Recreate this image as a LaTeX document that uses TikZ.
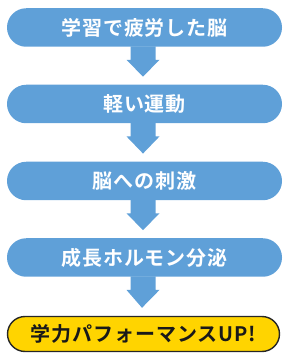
\documentclass[tikz,border=0pt]{standalone}
\usepackage{fontspec}
\newfontfamily\jpfont{Noto Sans CJK JP}[BoldFont={Noto Sans CJK JP Bold}, LetterSpace=4.5]
\usetikzlibrary{calc,positioning}
\definecolor{flowblue}{HTML}{5FA0D8}
\definecolor{flowyellow}{HTML}{FFD400}
\tikzset{
  stepbox/.style = {minimum width = 275, minimum height = 38.5, rounded corners = 19.2,
    inner sep = 0, font = \jpfont\bfseries\fontsize{20}{20}\selectfont},
  bluebox/.style = {stepbox, fill = flowblue, text = white},
  goalbox/.style = {stepbox, minimum width = 272, minimum height = 35, rounded corners = 17.5,
    fill = flowyellow, draw = black!85, line width = 1.4, text = black!90},
}
\begin{document}
\begin{tikzpicture}[x = 1pt, y = 1pt]
        \useasboundingbox(0,0)rectangle(289,359);
        % 流れ
        \node[bluebox](b1)at(144.5,331.5){学習で疲労した脳};
        \node[bluebox](b2)at(144.5,255){軽い運動};
        \node[bluebox](b3)at(144.5,178){脳への刺激};
        \node[bluebox](b4)at(144.5,101.5){成長ホルモン分泌};
        % 結果
        \node[goalbox](b5)at(143.5,25){学力パフォーマンスUP!};
        % 矢印
        \foreach \a/\b in {b1/b2, b2/b3, b3/b4, b4/b5}{
            \path[fill = flowblue]($(\a.south)+(-14,0.5)$)--($(\a.south)+(-14,-13)$)
                --($(\a.south)+(-18,-13)$)--($(\b.north)+(-1.5,8)$)--($(\a.south)+(15,-13)$)
                --($(\a.south)+(11,-13)$)--($(\a.south)+(11,0.5)$)--cycle;
        }
    \end{tikzpicture}
\end{document}
